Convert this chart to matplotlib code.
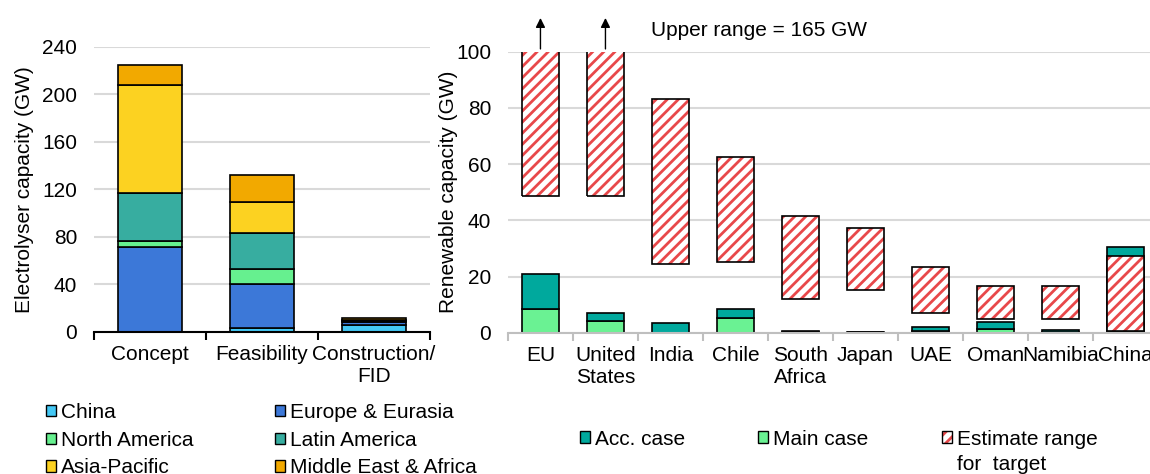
import matplotlib
matplotlib.use("Agg")
import matplotlib.pyplot as plt
from matplotlib.patches import Patch
from matplotlib.legend_handler import HandlerTuple
import numpy as np

plt.rcParams['font.family'] = ['Liberation Sans', 'DejaVu Sans']
plt.rcParams['font.size'] = 15
plt.rcParams['hatch.linewidth'] = 2.0

# ---- left panel data: electrolyser pipeline by stage (GW)
stages = ['Concept', 'Feasibility', 'Construction/\nFID']
regions = ['China', 'Europe & Eurasia', 'North America', 'Latin America',
           'Asia-Pacific', 'Middle East & Africa']
china = [0.3, 3.5, 6.0]
europe = [71.5, 36.5, 2.5]
north_america = [4.5, 13.0, 0.5]
latin_america = [40.5, 30.5, 0.5]
asia_pacific = [91.5, 26.0, 1.0]
middle_east = [16.5, 22.5, 1.5]
region_colors = ['#44c8f5', '#3c78d8', '#66f08f', '#37ada0', '#fcd221', '#f2a900']

# ---- right panel data: renewable capacity (GW)
countries = ['EU', 'United\nStates', 'India', 'Chile', 'South\nAfrica', 'Japan',
             'UAE', 'Oman', 'Namibia', 'China']
main_case = [8.5, 4.2, 0.0, 5.1, 0.2, 0.1, 0.6, 1.2, 0.3, 0.7]
acc_case = [12.5, 2.9, 3.4, 3.4, 0.5, 0.2, 1.5, 2.5, 0.8, 29.9]
range_low = [48.8, 48.8, 24.4, 25.0, 11.9, 15.1, 6.9, 4.9, 4.9, 0.7]
range_high = [165, 165, 83.3, 62.5, 41.6, 37.4, 23.3, 16.7, 16.7, 27.4]
case_labels = ['Acc. case', 'Main case', 'Estimate range']

red = '#e8484a'
acc_color = '#00a99d'
main_color = '#6af293'
grid_color = '#d9d9d9'

fig = plt.figure(figsize=(11.5, 4.74), dpi=100)

# ---------------- left chart
ax1 = fig.add_axes([0.0817, 0.2996, 0.2922, 0.6013])
x1 = np.arange(len(stages))
bottom = np.zeros(len(stages))
for vals, col in zip([china, europe, north_america, latin_america, asia_pacific, middle_east],
                     region_colors):
    ax1.bar(x1, vals, 0.57, bottom=bottom, color=col, edgecolor='black', linewidth=1.2, zorder=3)
    bottom += np.array(vals)
ax1.set_ylim(0, 240)
ax1.set_xlim(-0.5, len(stages) - 0.5)
ax1.set_yticks(range(0, 241, 40))
ax1.set_ylabel('Electrolyser capacity (GW)', labelpad=6)
ax1.set_xticks(x1)
ax1.set_xticklabels(stages)
ax1.set_xticks(np.arange(-0.5, len(stages), 1), minor=True)

# ---------------- right chart
ax2 = fig.add_axes([0.4417, 0.2981, 0.5652, 0.5928])
x2 = np.arange(len(countries))
w = 0.58
ax2.bar(x2, main_case, w, color=main_color, edgecolor='black', linewidth=1.2, zorder=3)
ax2.bar(x2, acc_case, w, bottom=main_case, color=acc_color, edgecolor='black', linewidth=1.2, zorder=3)
heights = np.array(range_high) - np.array(range_low)
ax2.bar(x2, heights, w, bottom=range_low, color='white', edgecolor=red, hatch='///',
        linewidth=0, zorder=4)
ax2.bar(x2, heights, w, bottom=range_low, fill=False, edgecolor='black', linewidth=1.2, zorder=5)
ax2.set_ylim(0, 100)
ax2.set_xlim(-0.5, len(countries) - 0.5)
ax2.set_yticks(range(0, 101, 20))
ax2.set_ylabel('Renewable capacity (GW)', labelpad=-1)
ax2.set_xticks(x2)
ax2.set_xticklabels(countries)
ax2.set_xticks(np.arange(-0.5, len(countries), 1), minor=True)

# arrows for ranges beyond the axis
for i, hi in enumerate(range_high):
    if hi > 100:
        ax2.annotate('', xy=(i, 113), xytext=(i, 100), annotation_clip=False,
                     arrowprops=dict(arrowstyle='-|>', color='black', lw=1, mutation_scale=14))
ax2.text(1.7, 107.5, 'Upper range = 165 GW', va='center', ha='left', clip_on=False)

for ax, spine_col in ((ax1, 'black'), (ax2, '#bfbfbf')):
    for s in ['top', 'right', 'left']:
        ax.spines[s].set_visible(False)
    ax.spines['bottom'].set_color(spine_col)
    ax.spines['bottom'].set_linewidth(1.5)
    ax.spines['bottom'].set_zorder(6)
    ax.grid(axis='y', color=grid_color, linewidth=1.5, zorder=0)
    ax.tick_params(axis='y', length=0, pad=12)
    ax.tick_params(axis='x', which='major', length=0, pad=9.5)
    ax.tick_params(axis='x', which='minor', length=6, width=1.5, direction='out', color=spine_col)

# ---------------- legends
leg_kw = dict(frameon=False, handlelength=0.48, handleheight=0.48, handletextpad=0.25,
              borderpad=0, borderaxespad=0, loc='upper left')
reg_handles = [Patch(facecolor=c, edgecolor='black', linewidth=1) for c in region_colors]
order = [0, 2, 4, 1, 3, 5]
fig.legend([reg_handles[i] for i in order], [regions[i] for i in order], ncol=2,
           bbox_to_anchor=(0.040, 0.1498), columnspacing=3.9, labelspacing=0.42, **leg_kw)

case_handles = [Patch(facecolor=acc_color, edgecolor='black', linewidth=1),
                Patch(facecolor=main_color, edgecolor='black', linewidth=1),
                (Patch(facecolor='white', edgecolor=red, hatch='///', linewidth=0),
                 Patch(fill=False, edgecolor='black', linewidth=1))]
for h, lab, xpos in zip(case_handles, case_labels, [0.5043, 0.659, 0.8189]):
    lg = fig.legend([h], [lab], bbox_to_anchor=(xpos, 0.0935),
                    handler_map={tuple: HandlerTuple(ndivide=1, pad=0)}, **leg_kw)
fig.text(0.832, 0.021, 'for  target', ha='left', va='center')

fig.savefig('out.png', dpi=100)
